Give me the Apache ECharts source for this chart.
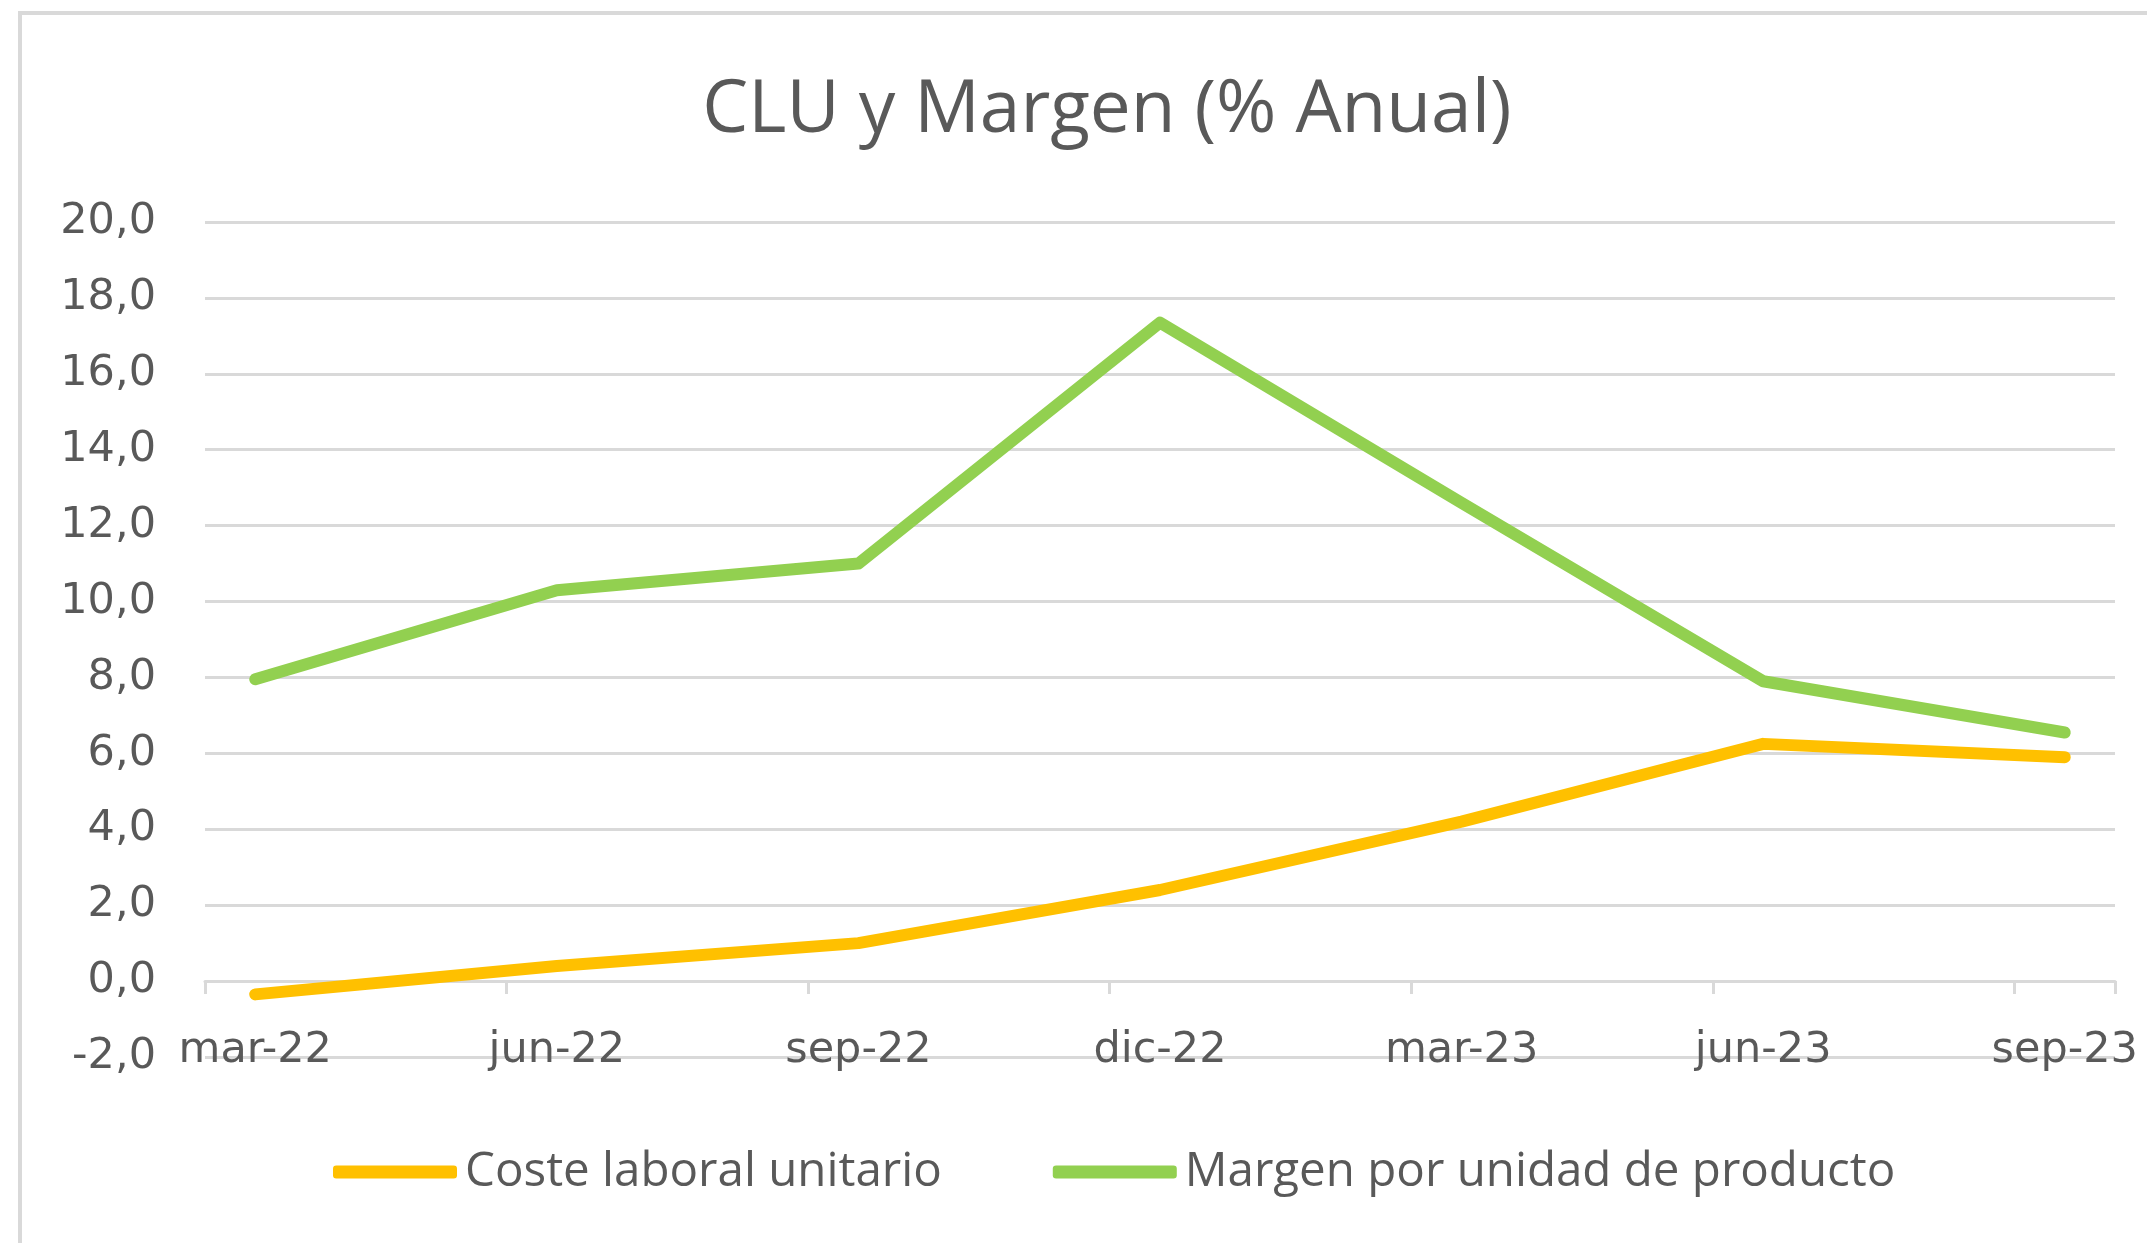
<!DOCTYPE html>
<html>
<head>
<meta charset="utf-8">
<script src="https://cdn.jsdelivr.net/npm/echarts@6/dist/echarts.min.js"></script>
<style>
html,body{margin:0;padding:0;background:#fff;}
#chart{width:2147px;height:1243px;}
</style>
</head>
<body>
<div id="chart"></div>
<script>
// Monthly category axis (Excel date axis, labels every 3 months)
const months = ['mar-22','abr-22','may-22','jun-22','jul-22','ago-22','sep-22','oct-22','nov-22','dic-22','ene-23','feb-23','mar-23','abr-23','may-23','jun-23','jul-23','ago-23','sep-23'];
// Quarterly observations
const quarters = ['mar-22','jun-22','sep-22','dic-22','mar-23','jun-23','sep-23'];
const costeLaboral = [-0.35, 0.4, 1.0, 2.4, 4.2, 6.25, 5.9];
const margenUnidad = [7.95, 10.3, 11.0, 17.35, 12.6, 7.9, 6.55];
const seriesNames = ['Coste laboral unitario', 'Margen por unidad de producto'];
const titleText = 'CLU y Margen (% Anual)';

const pairs = (vals) => quarters.map((q, i) => [q, vals[i]]);

const chart = echarts.init(document.getElementById('chart'));
chart.setOption({
  animation: false,
  backgroundColor: '#ffffff',
  graphic: [{
    type: 'rect',
    shape: {x: 20, y: 13, width: 2300, height: 1400},
    style: {fill: 'none', stroke: '#d9d9d9', lineWidth: 4}
  }],
  title: {
    text: titleText,
    left: 1102,
    textAlign: 'center',
    top: 70,
    textStyle: {fontFamily: 'Open Sans', fontSize: 73, fontWeight: 'normal', color: '#595959'}
  },
  legend: {
    left: 328,
    top: 1143,
    itemWidth: 124,
    itemHeight: 13,
    itemGap: 111,
    icon: 'roundRect',
    textStyle: {fontFamily: 'Open Sans', fontSize: 47.5, color: '#595959', padding: [0, 0, 0, 3]},
    data: seriesNames
  },
  grid: {left: 205, right: 32, top: 222, bottom: 186, containLabel: false},
  xAxis: {
    type: 'category',
    data: months,
    boundaryGap: true,
    axisLine: {onZero: true, lineStyle: {color: '#d9d9d9', width: 3}},
    axisTick: {show: true, interval: 2, length: 13, lineStyle: {color: '#d9d9d9', width: 3}},
    axisLabel: {interval: 2, margin: -28, fontFamily: 'DejaVu Sans', fontSize: 43, color: '#595959'},
    splitLine: {show: false}
  },
  yAxis: {
    type: 'value',
    min: -2,
    max: 20,
    interval: 2,
    axisLine: {show: false},
    axisTick: {show: false},
    axisLabel: {
      margin: 49,
      fontFamily: 'DejaVu Sans', fontSize: 43, color: '#595959',
      formatter: (v) => v.toFixed(1).replace('.', ',')
    },
    splitLine: {lineStyle: {color: '#d9d9d9', width: 3}}
  },
  series: [
    {
      name: seriesNames[0],
      type: 'line',
      data: pairs(costeLaboral),
      showSymbol: false,
      symbol: 'none',
      lineStyle: {color: '#FFC000', width: 12, cap: 'round', join: 'round'},
      itemStyle: {color: '#FFC000'}
    },
    {
      name: seriesNames[1],
      type: 'line',
      data: pairs(margenUnidad),
      showSymbol: false,
      symbol: 'none',
      lineStyle: {color: '#92D050', width: 12, cap: 'round', join: 'round'},
      itemStyle: {color: '#92D050'}
    }
  ]
});
</script>
</body>
</html>
